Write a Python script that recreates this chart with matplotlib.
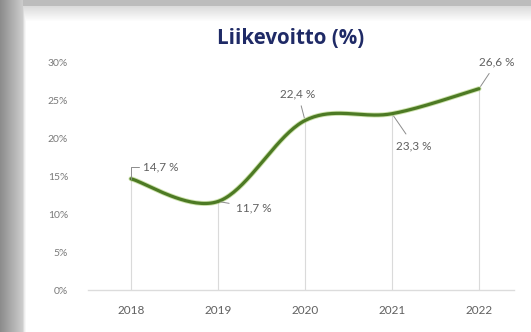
import numpy as np
import matplotlib
matplotlib.use("Agg")
import matplotlib.pyplot as plt

years = ["2018", "2019", "2020", "2021", "2022"]
margin = [14.7, 11.7, 22.4, 23.3, 26.6]
value_labels = ["14,7 %", "11,7 %", "22,4 %", "23,3 %", "26,6 %"]
y_ticks = [0, 5, 10, 15, 20, 25, 30]

# label offsets from each point, in pixels (dx, dy)
label_offsets = [(12, 12), (18, -6), (-7, 27), (22, -32), (18, 27)]

plt.rcParams['font.family'] = ['Lato', 'DejaVu Sans']

fig = plt.figure(figsize=(5.31, 3.32), dpi=100)

# grey frame round the white panel
h, w = 332, 531
bg = np.ones((h, w))
bg[:, :23] = np.linspace(0.55, 0.80, 23)[None, :]
bg[:6, 23:] = 0.74
bg[6:22, 23:] = np.linspace(0.86, 1.0, 16)[:, None]
bg[6:, 23:26] = np.minimum(bg[6:, 23:26], np.array([0.86, 0.93, 0.97])[None, :])
bgax = fig.add_axes([0, 0, 1, 1], zorder=-1)
bgax.imshow(np.dstack([bg, bg, bg]), aspect='auto', interpolation='bilinear')
bgax.axis('off')

ax = fig.add_axes([87.5 / w, 1 - 290 / h, 435 / w, 227 / h])
ax.patch.set_alpha(0)

x = np.arange(len(years))
y = np.array(margin)

# smoothed line (Catmull-Rom through the data points)
p = np.concatenate([[y[0]], y, [y[-1]]])
px = np.concatenate([[x[0]], x, [x[-1]]])
xs, ys = [], []
t = np.linspace(0, 1, 40)
for i in range(1, len(p) - 2):
    for arr, out in ((px, xs), (p, ys)):
        p0, p1, p2, p3 = arr[i - 1], arr[i], arr[i + 1], arr[i + 2]
        c1 = p1 + (p2 - p0) / 6
        c2 = p2 - (p3 - p1) / 6
        out.extend((1 - t) ** 3 * p1 + 3 * (1 - t) ** 2 * t * c1
                   + 3 * (1 - t) * t ** 2 * c2 + t ** 3 * p2)

ax.vlines(x, 0, y, color='#dadada', lw=0.8, zorder=1)
ax.plot(xs, ys, color='#9cc65a', lw=3.6, alpha=0.5, solid_capstyle='round', zorder=2)
ax.plot(xs, ys, color='#4d7a24', lw=2.3, solid_capstyle='round', zorder=3)

for xi, yi, lab, (dx, dy) in zip(x, y, value_labels, label_offsets):
    if xi == 0:
        ax.annotate(lab, (xi, yi), xytext=(dx, dy), textcoords='offset pixels',
                    ha='left', va='center', fontsize=8.5, color='#606060',
                    arrowprops=dict(arrowstyle='-', color='#8c8c8c', lw=0.7,
                                    shrinkA=1, shrinkB=0,
                                    connectionstyle='angle,angleA=0,angleB=90,rad=0'))
    else:
        ha = 'left' if xi == 1 else 'center'
        ax.annotate(lab, (xi, yi), xytext=(dx, dy), textcoords='offset pixels',
                    ha=ha, va='center', fontsize=8.5, color='#606060',
                    arrowprops=dict(arrowstyle='-', color='#8c8c8c', lw=0.7,
                                    shrinkA=3, shrinkB=2))

ax.set_xlim(-0.5, len(years) - 0.5)
ax.set_ylim(0, 30)
ax.set_xticks(x)
ax.set_xticklabels(years)
ax.set_yticks(y_ticks)
ax.set_yticklabels([f"{v}%" for v in y_ticks])
ax.tick_params(axis='x', length=0, pad=11, labelsize=8.5, labelcolor='#606060')
ax.tick_params(axis='y', length=0, pad=14, labelsize=7.5, labelcolor='#7a7a7a')
for s in ['top', 'right', 'left']:
    ax.spines[s].set_visible(False)
ax.spines['bottom'].set_color('#dcdcdc')
ax.spines['bottom'].set_linewidth(1.0)
ax.spines['bottom'].set_bounds(-0.5, 4.4)

fig.text(291 / w, 1 - 38 / h, "Liikevoitto (%)", ha='center', va='center',
         fontsize=14.8, fontweight='bold', color='#1f2a66',
         family=['Open Sans', 'DejaVu Sans'])

fig.savefig("out.png", dpi=100)
